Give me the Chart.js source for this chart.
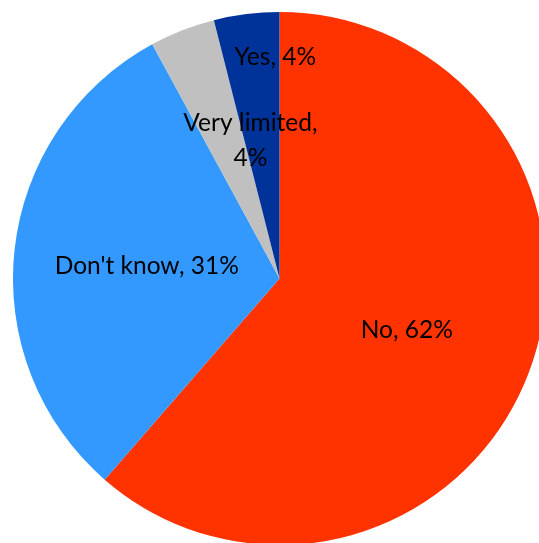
<!DOCTYPE html>
<html>
<head>
<meta charset="utf-8">
<script src="https://cdn.jsdelivr.net/npm/chart.js@4"></script>
<style>
  html, body { margin: 0; padding: 0; background: #ffffff; }
  #frame { position: relative; width: 539px; height: 543px; overflow: hidden; }
  #holder { position: absolute; left: 13px; top: 12px; width: 533px; height: 533px; }
</style>
</head>
<body>
<div id="frame"><div id="holder"><canvas id="pie" width="533" height="533"></canvas></div></div>
<script>
// Survey answers, clockwise from 12 o'clock
const categories = ['No', "Don't know", 'Very limited', 'Yes'];
const shares = [62, 31, 4, 4];
const sliceColors = ['#FF3300', '#3399FF', '#C0C0C0', '#003399'];

// Where each label sits: fraction of the radius and a turn (degrees) off the slice middle
const labelPlacement = [
  { radius: 0.515, turn: 1.5, lines: ['No, 62%'] },
  { radius: 0.50, turn: -1, lines: ["Don't know, 31%"] },
  { radius: 0.53, turn: 9.5, lines: ['Very limited,', '4%'] },
  { radius: 0.83, turn: 6, lines: ['Yes, 4%'] }
];

const sliceLabels = {
  id: 'sliceLabels',
  afterDatasetsDraw(chart) {
    const ctx = chart.ctx;
    const arcs = chart.getDatasetMeta(0).data;
    ctx.save();
    ctx.fillStyle = '#000000';
    ctx.font = '24.5px Lato';
    ctx.textAlign = 'center';
    ctx.textBaseline = 'middle';
    arcs.forEach((arc, i) => {
      const p = arc.getProps(['x', 'y', 'startAngle', 'endAngle', 'outerRadius'], true);
      const place = labelPlacement[i];
      const a = (p.startAngle + p.endAngle) / 2 + place.turn * Math.PI / 180;
      const d = p.outerRadius * place.radius;
      const cx = p.x + Math.cos(a) * d;
      const cy = p.y + Math.sin(a) * d;
      const lh = 35;
      const top = cy - (place.lines.length - 1) * lh / 2;
      place.lines.forEach((t, k) => ctx.fillText(t, cx, top + k * lh));
    });
    ctx.restore();
  }
};

new Chart(document.getElementById('pie'), {
  type: 'pie',
  data: {
    labels: categories,
    datasets: [{
      data: shares,
      backgroundColor: sliceColors,
      borderWidth: 0
    }]
  },
  options: {
    responsive: false,
    animation: false,
    layout: { padding: 0 },
    plugins: {
      legend: { display: false },
      tooltip: { enabled: false }
    }
  },
  plugins: [sliceLabels]
});
</script>
</body>
</html>
